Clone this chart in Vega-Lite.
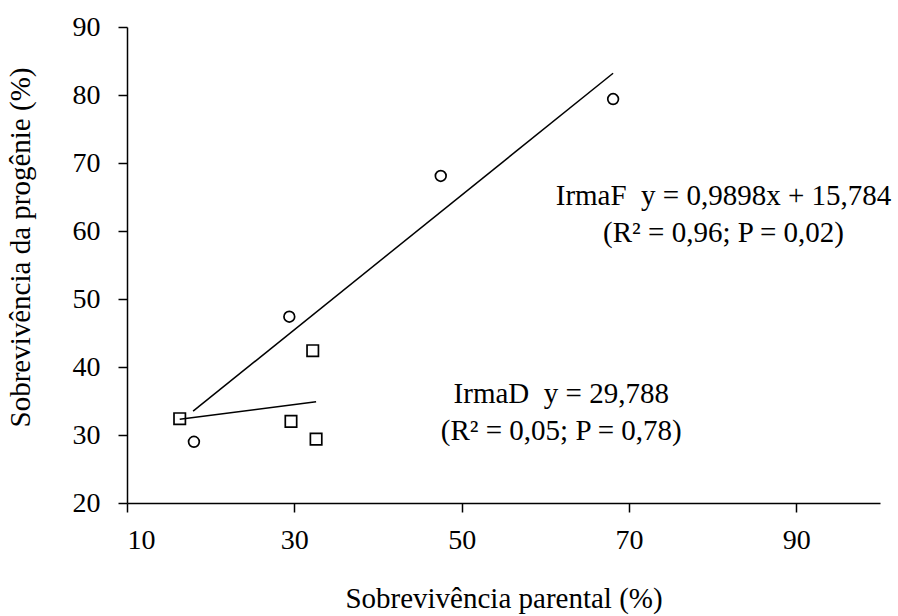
{
  "$schema": "https://vega.github.io/schema/vega-lite/v6.json",
  "width": 753,
  "height": 476,
  "autosize": "none",
  "padding": {"left": 127, "top": 27, "right": 18, "bottom": 113},
  "background": "white",
  "config": {
    "view": {"stroke": null},
    "font": "Liberation Serif",
    "axis": {
      "grid": false,
      "domainColor": "black",
      "domainWidth": 1.5,
      "tickColor": "black",
      "tickWidth": 1.5,
      "tickSize": 9,
      "labelFont": "Liberation Serif",
      "labelFontSize": 28,
      "labelColor": "black",
      "titleFont": "Liberation Serif",
      "titleFontSize": 29,
      "titleFontWeight": "normal",
      "titleColor": "black"
    }
  },
  "datasets": {
    "pts": [
      {"grupo": "IrmaF", "parental": 18.0, "progenie": 29.0},
      {"grupo": "IrmaF", "parental": 29.4, "progenie": 47.4},
      {"grupo": "IrmaF", "parental": 47.5, "progenie": 68.1},
      {"grupo": "IrmaF", "parental": 68.1, "progenie": 79.4},
      {"grupo": "IrmaD", "parental": 16.3, "progenie": 32.4},
      {"grupo": "IrmaD", "parental": 29.6, "progenie": 32.0},
      {"grupo": "IrmaD", "parental": 32.6, "progenie": 29.4},
      {"grupo": "IrmaD", "parental": 32.2, "progenie": 42.4}
    ],
    "fit": [
      {"grupo": "IrmaF", "parental": 17.9, "progenie": 33.5},
      {"grupo": "IrmaF", "parental": 68.1, "progenie": 83.2},
      {"grupo": "IrmaD", "parental": 16.3, "progenie": 32.3},
      {"grupo": "IrmaD", "parental": 32.6, "progenie": 34.9}
    ],
    "notes": [
      {"texto": "IrmaF\u00a0 y = 0,9898x + 15,784", "parental": 81.3, "progenie": 63.8},
      {"texto": "(R² = 0,96; P = 0,02)", "parental": 81.3, "progenie": 58.4},
      {"texto": "IrmaD\u00a0 y = 29,788", "parental": 61.9, "progenie": 34.7},
      {"texto": "(R² = 0,05; P = 0,78)", "parental": 61.9, "progenie": 29.3}
    ]
  },
  "encoding": {
    "x": {
      "field": "parental",
      "type": "quantitative",
      "scale": {"domain": [10, 100], "nice": false, "zero": false},
      "axis": {
        "title": "Sobrevivência parental (%)",
        "values": [10, 30, 50, 70, 90],
        "labelPadding": 14,
        "titleY": 81,
        "titleBaseline": "top"
      }
    },
    "y": {
      "field": "progenie",
      "type": "quantitative",
      "scale": {"domain": [20, 90], "nice": false, "zero": false},
      "axis": {
        "title": "Sobrevivência da progênie (%)",
        "values": [20, 30, 40, 50, 60, 70, 80, 90],
        "labelPadding": 18,
        "titleX": -92,
        "titleY": 220,
        "titleAngle": -90,
        "titleAlign": "center",
        "titleBaseline": "bottom"
      }
    }
  },
  "layer": [
    {
      "data": {"name": "fit"},
      "mark": {"type": "line", "color": "black", "strokeWidth": 1.5},
      "encoding": {"detail": {"field": "grupo"}}
    },
    {
      "data": {"name": "pts"},
      "mark": {"type": "point", "filled": false, "color": "black", "strokeWidth": 1.7, "opacity": 1},
      "encoding": {
        "shape": {
          "field": "grupo",
          "type": "nominal",
          "scale": {"domain": ["IrmaF", "IrmaD"], "range": ["circle", "square"]},
          "legend": null
        },
        "size": {
          "field": "grupo",
          "type": "nominal",
          "scale": {"domain": ["IrmaF", "IrmaD"], "range": [115, 130]},
          "legend": null
        }
      }
    },
    {
      "data": {"name": "notes"},
      "mark": {"type": "text", "font": "Liberation Serif", "fontSize": 29, "color": "black", "align": "center", "baseline": "alphabetic"},
      "encoding": {"text": {"field": "texto"}}
    }
  ]
}
